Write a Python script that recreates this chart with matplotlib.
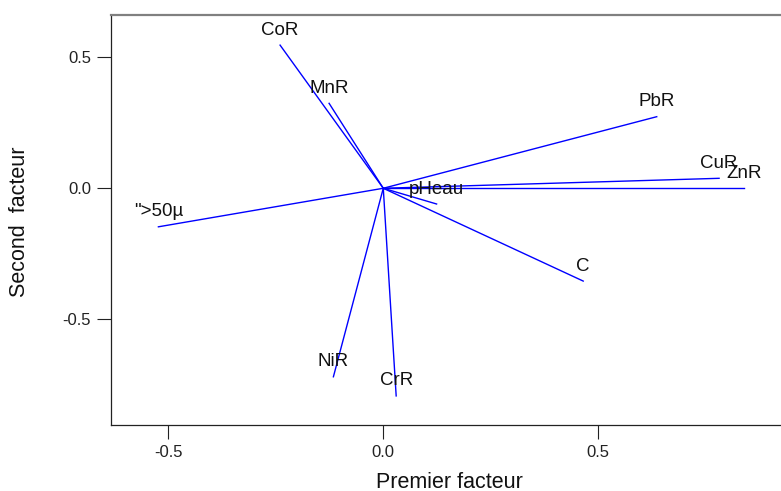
import matplotlib
matplotlib.use("Agg")
import matplotlib.pyplot as plt

plt.rcParams["font.family"] = ["Liberation Sans", "DejaVu Sans"]

# loadings on the first two factors
variables = ["CoR", "MnR", "PbR", "CuR", "ZnR", "pHeau", '">50µ', "NiR", "CrR", "C"]
factor1 = [-0.240, -0.126, 0.636, 0.781, 0.839, 0.124, -0.523, -0.116, 0.030, 0.465]
factor2 = [0.546, 0.324, 0.273, 0.038, 0.000, -0.060, -0.147, -0.719, -0.792, -0.354]

fig = plt.figure(figsize=(7.81, 4.91), dpi=100)
ax = fig.add_axes([0.1417, 0.1344, 0.8583, 0.8351])

for name, x, y in zip(variables, factor1, factor2):
    ax.plot([0, x], [0, y], color="#0000ff", linewidth=1.0)
    ax.annotate(name, (x, y), xytext=(0, 10.8), textcoords="offset points",
                ha="center", va="center", fontsize=13.5, color="#111111")

ax.set_xlim(-0.634, 0.925)
ax.set_ylim(-0.903, 0.661)
ax.set_xticks([-0.5, 0.0, 0.5])
ax.set_yticks([-0.5, 0.0, 0.5])
ax.set_xticklabels(["-0.5", "0.0", "0.5"])
ax.set_yticklabels(["-0.5", "0.0", "0.5"])
ax.tick_params(direction="out", length=10, width=0.8, labelsize=12,
               colors="#222222")
ax.tick_params(axis="x", pad=4.5)
ax.tick_params(axis="y", pad=4)

ax.spines["right"].set_visible(False)
ax.spines["top"].set_color("#808080")
ax.spines["top"].set_linewidth(1.6)
ax.spines["left"].set_color("#222222")
ax.spines["bottom"].set_color("#222222")
ax.spines["left"].set_linewidth(0.9)
ax.spines["bottom"].set_linewidth(0.9)

ax.set_xlabel("Premier facteur", fontsize=15.5, va="center", color="#111111")
ax.xaxis.set_label_coords(0.505, -0.139)
ax.set_ylabel("Second  facteur", fontsize=15.5, va="center", color="#111111")
ax.yaxis.set_label_coords(-0.1353, 0.495)

fig.savefig("out.png", dpi=100)
